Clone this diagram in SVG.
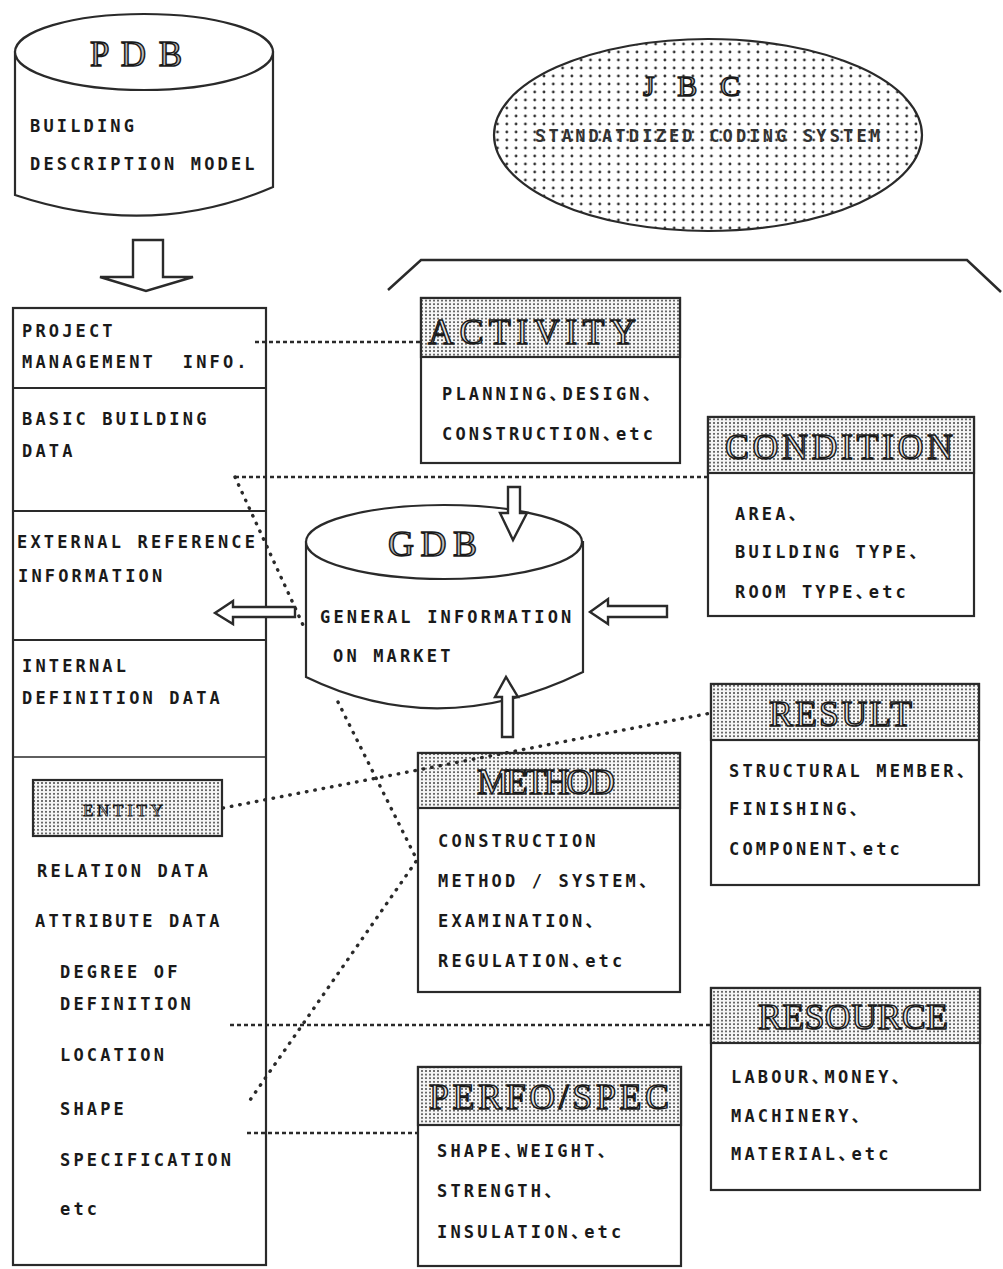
<svg xmlns="http://www.w3.org/2000/svg" width="1003" height="1269" viewBox="0 0 1003 1269">
<defs>
  <pattern id="hd" width="4" height="3.6" patternUnits="userSpaceOnUse">
    <rect width="4" height="3.6" fill="#f6f6f6"/>
    <circle cx="2" cy="1.8" r="1" fill="#3a3a3a"/>
  </pattern>
  <pattern id="jd" width="9.3" height="8" patternUnits="userSpaceOnUse">
    <circle cx="4.6" cy="4" r="1.4" fill="#333"/>
  </pattern>
  <style>
    .ln{fill:none;stroke:#2a2a2a;stroke-width:2}
    .bx{fill:#fff;stroke:#2a2a2a;stroke-width:2.2}
    .hdr{fill:url(#hd);stroke:#2a2a2a;stroke-width:2.2}
    .t{font-family:"DejaVu Sans Mono","Noto Sans CJK JP",monospace;font-weight:bold;font-size:17px;letter-spacing:3.16px;fill:#1a1a1a}
    .c{letter-spacing:-3.8px}
    .h{font-family:"Liberation Serif",serif;font-size:36px;fill:#e6e6e6;stroke:#1a1a1a;stroke-width:1.5}
    .db{font-family:"Liberation Serif",serif;fill:#bdbdbd;stroke:#1a1a1a;stroke-width:1.5}
    .dash{fill:none;stroke:#2a2a2a;stroke-width:2.6;stroke-dasharray:4 3}
    .dot{fill:none;stroke:#2a2a2a;stroke-width:3.4;stroke-linecap:round;stroke-dasharray:0.5 8}
    .ar{fill:#fff;stroke:#2a2a2a;stroke-width:2.4;stroke-linejoin:miter}
  </style>
</defs>
<rect width="1003" height="1269" fill="#fff"/>

<g id="pdb">
  <path class="bx" d="M15,52 L15,195 Q150,240 273,187 L273,52 Z"/>
  <ellipse class="bx" cx="144" cy="52" rx="129" ry="38"/>
  <text class="db" x="90" y="66" font-size="35" textLength="92" lengthAdjust="spacing">P D B</text>
  <text class="t" x="30" y="132">BUILDING</text>
  <text class="t" x="30" y="170">DESCRIPTION MODEL</text>
</g>

<g id="jbc">
  <ellipse cx="708" cy="135" rx="214" ry="96" fill="#fff"/>
  <ellipse cx="708" cy="135" rx="214" ry="96" fill="url(#jd)" stroke="#2a2a2a" stroke-width="2.2"/>
  <text class="db" x="643" y="96" font-size="30" textLength="97" lengthAdjust="spacing">J B C</text>
  <text class="t" x="535" y="142" style="fill:#333">STANDATDIZED CODING SYSTEM</text>
</g>

<g id="bracket">
  <polyline points="388,290 421,260 967,260 1001,292" fill="none" stroke="#2a2a2a" stroke-width="2.5"/>
</g>

<g id="pdm">
  <rect class="bx" x="13" y="308" width="253" height="957"/>
  <line class="ln" x1="13" y1="388" x2="266" y2="388"/>
  <line class="ln" x1="13" y1="511" x2="266" y2="511"/>
  <line class="ln" x1="13" y1="640" x2="266" y2="640"/>
  <line x1="13" y1="757" x2="266" y2="757" stroke="#2a2a2a" stroke-width="1.3"/>
  <text class="t" x="22" y="337">PROJECT</text>
  <text class="t" x="22" y="368" xml:space="preserve">MANAGEMENT  INFO.</text>
  <text class="t" x="22" y="425">BASIC BUILDING</text>
  <text class="t" x="22" y="457">DATA</text>
  <text class="t" x="17" y="548">EXTERNAL REFERENCE</text>
  <text class="t" x="18" y="582">INFORMATION</text>
  <text class="t" x="22" y="672">INTERNAL</text>
  <text class="t" x="22" y="704">DEFINITION DATA</text>
  <text class="t" x="37" y="877">RELATION DATA</text>
  <text class="t" x="35" y="927">ATTRIBUTE DATA</text>
  <text class="t" x="60" y="978">DEGREE OF</text>
  <text class="t" x="60" y="1010">DEFINITION</text>
  <text class="t" x="60" y="1061">LOCATION</text>
  <text class="t" x="60" y="1115">SHAPE</text>
  <text class="t" x="60" y="1166">SPECIFICATION</text>
  <text class="t" x="60" y="1215">etc</text>
</g>

<g id="entity">
  <rect class="hdr" x="33" y="780" width="189" height="56"/>
  <text class="h" x="83" y="816" style="font-size:17px;stroke-width:0.9" textLength="80" lengthAdjust="spacing">ENTITY</text>
</g>

<g id="gdb">
  <path class="bx" d="M306,542 L306,677 Q440,742 583,672 L583,542 Z"/>
  <ellipse class="bx" cx="444" cy="542" rx="138" ry="37"/>
  <text class="db" x="388" y="556" font-size="36" textLength="89" lengthAdjust="spacing">G D B</text>
  <text class="t" x="320" y="623">GENERAL INFORMATION</text>
  <text class="t" x="333" y="662">ON MARKET</text>
</g>

<g id="activity">
  <rect class="bx" x="421" y="298" width="259" height="165"/>
  <rect class="hdr" x="421" y="298" width="259" height="59"/>
  <text class="h" x="428" y="344" textLength="208" lengthAdjust="spacing">ACTIVITY</text>
  <text class="t" x="442" y="400">PLANNING<tspan class="c">、</tspan>DESIGN<tspan class="c">、</tspan></text>
  <text class="t" x="442" y="440">CONSTRUCTION<tspan class="c">、</tspan>etc</text>
</g>

<g id="condition">
  <rect class="bx" x="708" y="417" width="266" height="199"/>
  <rect class="hdr" x="708" y="417" width="266" height="56"/>
  <text class="h" x="725" y="459" textLength="228" lengthAdjust="spacing">CONDITION</text>
  <text class="t" x="735" y="520">AREA<tspan class="c">、</tspan></text>
  <text class="t" x="735" y="558">BUILDING TYPE<tspan class="c">、</tspan></text>
  <text class="t" x="735" y="598">ROOM TYPE<tspan class="c">、</tspan>etc</text>
</g>

<g id="result">
  <rect class="bx" x="711" y="684" width="268" height="201"/>
  <rect class="hdr" x="711" y="684" width="268" height="56"/>
  <text class="h" x="769" y="726" textLength="143" lengthAdjust="spacing">RESULT</text>
  <text class="t" x="729" y="777">STRUCTURAL MEMBER<tspan class="c">、</tspan></text>
  <text class="t" x="729" y="815">FINISHING<tspan class="c">、</tspan></text>
  <text class="t" x="729" y="855">COMPONENT<tspan class="c">、</tspan>etc</text>
</g>

<g id="method">
  <rect class="bx" x="418" y="753" width="262" height="239"/>
  <rect class="hdr" x="418" y="753" width="262" height="55"/>
  <text class="h" x="477" y="794" textLength="138" lengthAdjust="spacing">METHOD</text>
  <text class="t" x="438" y="847">CONSTRUCTION</text>
  <text class="t" x="438" y="887">METHOD / SYSTEM<tspan class="c">、</tspan></text>
  <text class="t" x="438" y="927">EXAMINATION<tspan class="c">、</tspan></text>
  <text class="t" x="438" y="967">REGULATION<tspan class="c">、</tspan>etc</text>
</g>

<g id="resource">
  <rect class="bx" x="711" y="988" width="269" height="202"/>
  <rect class="hdr" x="711" y="988" width="269" height="55"/>
  <text class="h" x="758" y="1029" textLength="190" lengthAdjust="spacing">RESOURCE</text>
  <text class="t" x="731" y="1083">LABOUR<tspan class="c">、</tspan>MONEY<tspan class="c">、</tspan></text>
  <text class="t" x="731" y="1122">MACHINERY<tspan class="c">、</tspan></text>
  <text class="t" x="731" y="1160">MATERIAL<tspan class="c">、</tspan>etc</text>
</g>

<g id="perfo-spec">
  <rect class="bx" x="418" y="1067" width="263" height="199"/>
  <rect class="hdr" x="418" y="1067" width="263" height="58"/>
  <text class="h" x="429" y="1109" textLength="240" lengthAdjust="spacing">PERFO/SPEC</text>
  <text class="t" x="437" y="1157">SHAPE<tspan class="c">、</tspan>WEIGHT<tspan class="c">、</tspan></text>
  <text class="t" x="437" y="1197">STRENGTH<tspan class="c">、</tspan></text>
  <text class="t" x="437" y="1238">INSULATION<tspan class="c">、</tspan>etc</text>
</g>

<g id="connectors">
  <path class="dash" d="M255,342 H421"/>
  <path class="dash" d="M235,477 H708"/>
  <path class="dot" d="M235,477 L303,625"/>
  <path class="dot" d="M338,702 L417,860 L248,1103"/>
  <path class="dot" d="M223,808 L711,713"/>
  <path class="dash" d="M230,1025 H711"/>
  <path class="dash" d="M247,1133 H418"/>
  <polygon class="ar" points="133,240 163,240 163,277 193,277 146,291 100,277 133,277"/>
  <polygon class="ar" points="295,607 295,617 233,617 233,624 215,613 233,601 233,607"/>
  <polygon class="ar" points="508,487 520,487 520,513 527,513 513,540 500,513 508,513"/>
  <polygon class="ar" points="667,606 667,617 608,617 608,624 590,612 608,599 608,606"/>
  <polygon class="ar" points="502,737 513,737 513,697 518,697 506,677 495,697 502,697"/>
</g>
</svg>
